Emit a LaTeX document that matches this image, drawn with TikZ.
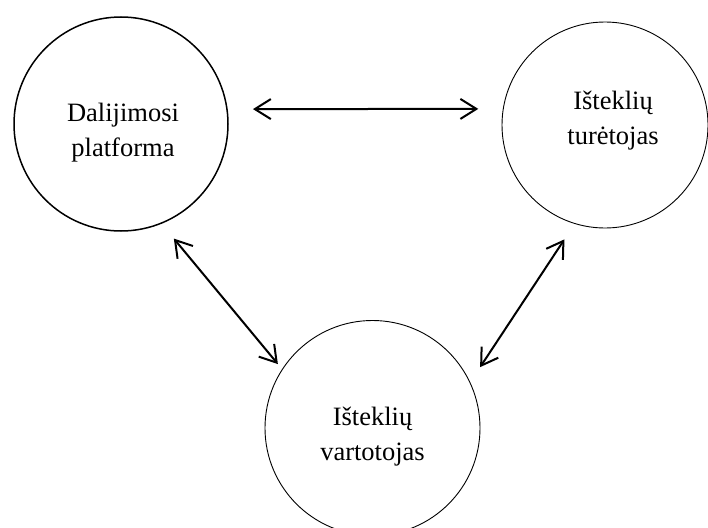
\documentclass[tikz,border=0pt]{standalone}
\usepackage{fontspec}
\setmainfont{Liberation Serif}
\usetikzlibrary{arrows.meta}
\tikzset{
  actor/.style={circle, draw, inner sep=0pt, outer sep=0pt, minimum size=#1},
  caption/.style={align=center, font=\fontsize{26.5}{35}\selectfont, inner sep=0pt},
  link/.style={line width=2pt, {Straight Barb[length=16pt,width=20pt]}-{Straight Barb[length=16pt,width=20pt]}}
}
\begin{document}
\begin{tikzpicture}[x=1pt,y=-1pt]
  \useasboundingbox (0,0) rectangle (708,527);
  % the three parties
  \node[actor=214pt, line width=1.5pt] (platform) at (121,124) {};
  \node[actor=206pt, line width=0.9pt] (owner) at (605,125) {};
  \node[actor=215pt, line width=0.9pt] (user) at (372.5,428) {};
  % their names
  \node[caption] (platformtxt) at (123,133) {Dalijimosi\\platforma};
  \node[caption] (ownertxt) at (613,120.5) {Išteklių\\turėtojas};
  \node[caption] (usertxt) at (372.5,436.5) {Išteklių\\vartotojas};
  % two-way relations
  \draw[link, shorten <=26pt, shorten >=25pt] (platform.8) -- (owner.171);
  \draw[link, shorten <=20pt, shorten >=7pt] (platform.-68.5) -- (user.147.7);
  \draw[link, shorten <=19pt, shorten >=18.5pt] (owner.-107.9) -- (user.25);
\end{tikzpicture}
\end{document}
